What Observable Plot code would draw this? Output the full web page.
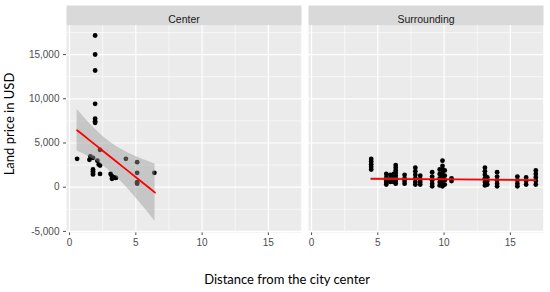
<!DOCTYPE html>
<html>
<head>
<meta charset="utf-8">
<script src="https://cdn.jsdelivr.net/npm/d3@7"></script>
<script src="https://cdn.jsdelivr.net/npm/@observablehq/plot@0.6"></script>
<style>
  html, body { margin: 0; padding: 0; background: white; }
  #wrap { position: relative; width: 550px; height: 292px; overflow: hidden; }
  #chart svg { display: block; }
  .title { position: absolute; font-family: Lato, "Open Sans", sans-serif; font-size: 13px; color: #000; white-space: nowrap; }
</style>
</head>
<body>
<div id="wrap">
  <div id="chart"></div>
  <div class="title" id="ytitle">Land price in USD</div>
  <div class="title" id="xtitle">Distance from the city center</div>
</div>
<script>
// ---- Data ----
const regions = ["Center", "Surrounding"];
const xTicks = [0, 5, 10, 15];
const xMinor = [2.5, 7.5, 12.5, 17.5];
const yTicks = [-5000, 0, 5000, 10000, 15000];
const yMinor = [-2500, 2500, 7500, 12500, 17500];

// Center panel points
const centerX = [1.93, 1.93, 1.93, 1.93, 1.93, 1.93, 1.93,
  0.57, 1.57, 1.5, 1.77, 1.77, 1.77, 1.77, 1.77,
  2.1, 2.2, 2.3, 2.3, 2.3, 4.25,
  3.1, 3.2, 3.3, 3.4, 3.2, 3.5,
  5.1, 5.1, 5.1, 5.1, 6.4];
const centerY = [17160, 15010, 13200, 9430, 7740, 7470, 7280,
  3210, 3470, 3100, 3320, 2000, 1800, 1600, 1450,
  3000, 2570, 2450, 1500, 4230, 3210,
  1500, 1250, 1050, 1100, 950, 1050,
  2830, 1630, 570, 400, 1630];

// Surrounding panel points
const surrX = [4.5, 4.5, 4.5, 4.5, 4.5,
  5.64, 5.64, 5.64, 5.64, 5.64,
  5.94, 5.94, 5.94,
  6.2, 6.2, 6.2, 6.2,
  6.35, 6.35, 6.35, 6.35, 6.35, 6.35, 6.35, 6.35,
  7.02, 7.02, 7.02, 7.02,
  7.83, 7.83, 7.83, 7.83, 7.83, 7.83,
  8.2, 8.2, 8.2, 8.2,
  9.1, 9.1, 9.1, 9.1, 9.1,
  9.67, 9.67, 9.67, 9.67, 9.67,
  9.88, 9.88, 9.88, 9.88, 9.88, 9.88, 9.88, 9.88,
  10.05, 10.05, 10.05, 10.05,
  10.56, 10.56,
  13.08, 13.08, 13.08, 13.08, 13.08, 13.08,
  13.26, 13.26, 13.26,
  14.0, 14.0, 14.0, 14.0, 14.0,
  15.53, 15.53, 15.53, 15.53,
  16.19, 16.19, 16.19,
  16.92, 16.92, 16.92, 16.92, 16.92];
const surrY = [3200, 2900, 2600, 2300, 2000,
  1500, 1100, 800, 500, 300,
  1400, 1000, 600,
  1500, 1200, 900, 600,
  2500, 2200, 1900, 1600, 1300, 1000, 700, 400,
  1400, 1000, 700, 400,
  2200, 1800, 1400, 1000, 600, 300,
  1300, 900, 600, 300,
  1700, 1200, 800, 400, 100,
  2000, 1500, 1000, 600, 200,
  3000, 2400, 2000, 1600, 1200, 800, 400, 100,
  1900, 1300, 800, 300,
  1000, 700,
  2200, 1800, 1400, 1000, 600, 200,
  1100, 700, 300,
  1700, 1200, 800, 400, 100,
  1200, 800, 400, 100,
  1100, 700, 300,
  1900, 1500, 1100, 700, 300];

// Linear fits with confidence bands
const fitCenterX = [0.57, 1, 1.5, 2, 2.5, 3, 3.5, 4, 4.5, 5, 5.5, 6, 6.45];
const fitCenterY = [6446, 5930, 5330, 4730, 4130, 3530, 2930, 2330, 1730, 1130, 530, -70, -610];
const fitCenterLo = [4089, 3799, 3425, 2994, 2489, 1898, 1219, 463, -352, -1210, -2099, -3009, -3843];
const fitCenterHi = [8803, 8061, 7235, 6466, 5771, 5162, 4641, 4197, 3812, 3470, 3159, 2869, 2623];

const fitSurrX = [4.5, 10.7, 16.9];
const fitSurrY = [950, 875, 800];
const fitSurrLo = [800, 810, 670];
const fitSurrHi = [1100, 940, 930];

// ---- Build tables ----
const points = [
  ...centerX.map((x, i) => ({region: "Center", x, y: centerY[i]})),
  ...surrX.map((x, i) => ({region: "Surrounding", x, y: surrY[i]}))
];
const fits = [
  ...fitCenterX.map((x, i) => ({region: "Center", x, y: fitCenterY[i], lo: fitCenterLo[i], hi: fitCenterHi[i]})),
  ...fitSurrX.map((x, i) => ({region: "Surrounding", x, y: fitSurrY[i], lo: fitSurrLo[i], hi: fitSurrHi[i]}))
];

const W = 550, H = 292, mT = 25, mB = 60, mL = 66, mR = 7;
const panelH = H - mT - mB;

const chart = Plot.plot({
  width: W, height: H,
  marginTop: mT, marginBottom: mB, marginLeft: mL, marginRight: mR,
  style: {fontFamily: "'Liberation Sans', Arial, sans-serif", fontSize: "10px", color: "#4D4D4D", background: "white", overflow: "visible"},
  fx: {domain: regions, paddingInner: 0.029, paddingOuter: 0, axis: null, label: null},
  x: {domain: [-0.23, 17.5], ticks: xTicks, tickSize: 3, tickPadding: 3, label: null, tickFormat: d => String(d)},
  y: {domain: [-5124, 18290], ticks: yTicks, tickSize: 3, tickPadding: 4, label: null, tickFormat: d => d.toLocaleString("en-US")},
  marks: [
    Plot.frame({fill: "#EBEBEB"}),
    Plot.frame({fill: "#D9D9D9", insetTop: -20, insetBottom: panelH}),
    Plot.ruleX(xMinor, {stroke: "white", strokeWidth: 0.6}),
    Plot.ruleY(yMinor, {stroke: "white", strokeWidth: 0.6}),
    Plot.ruleX(xTicks, {stroke: "white", strokeWidth: 1.2}),
    Plot.ruleY(yTicks, {stroke: "white", strokeWidth: 1.2}),
    Plot.dot(points, {fx: "region", x: "x", y: "y", r: 2.4, fill: "black", stroke: "none"}),
    Plot.areaY(fits, {fx: "region", x: "x", y1: "lo", y2: "hi", fill: "#999999", fillOpacity: 0.45}),
    Plot.line(fits, {fx: "region", x: "x", y: "y", stroke: "#FF0000", strokeWidth: 1.8}),
    Plot.text(regions, {fx: d => d, text: d => d, frameAnchor: "top", dy: -10, fill: "#1A1A1A", fontSize: 10.5})
  ]
});
document.getElementById("chart").appendChild(chart);

// Position titles
const yt = document.getElementById("ytitle");
yt.style.left = "9px"; yt.style.top = "124px";
yt.style.transform = "translate(-50%, -50%) rotate(-90deg)";
const xt = document.getElementById("xtitle");
xt.style.left = "287px"; xt.style.top = "279px";
xt.style.transform = "translate(-50%, -50%)";
</script>
</body>
</html>
